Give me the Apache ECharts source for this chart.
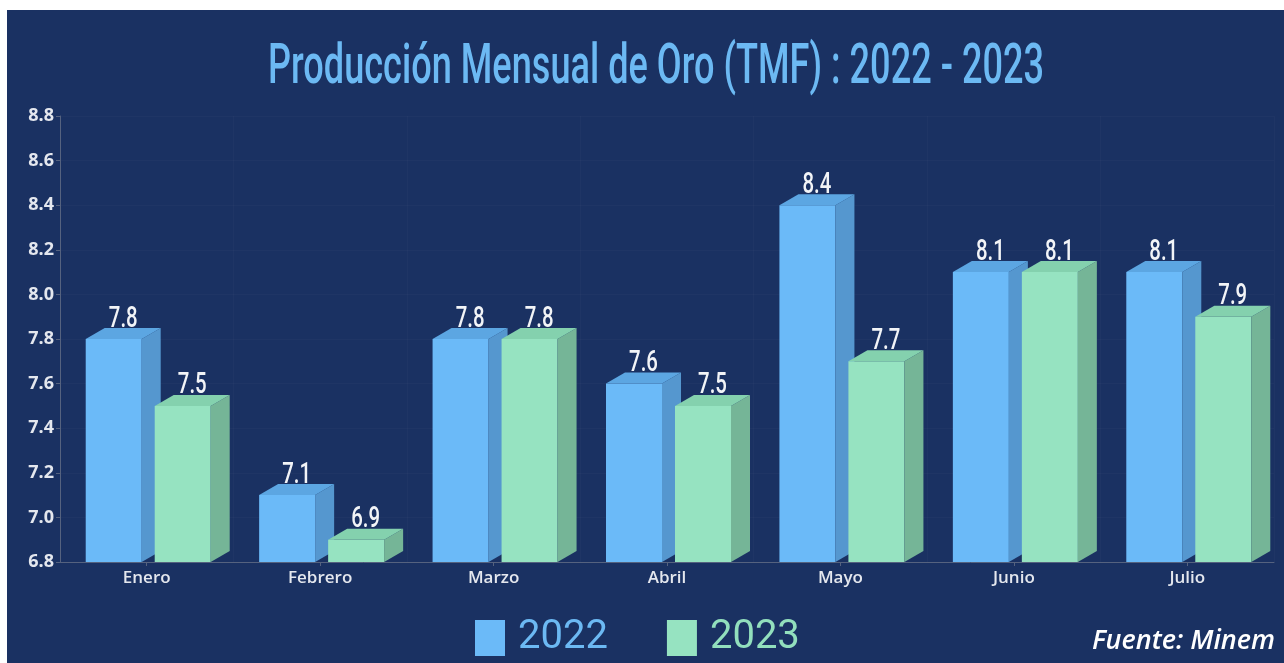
<!DOCTYPE html>
<html>
<head>
<meta charset="utf-8">
<script src="https://cdn.jsdelivr.net/npm/echarts@6/dist/echarts.min.js"></script>
<style>
  html, body { margin: 0; padding: 0; background: #ffffff; }
  #chart { position: absolute; left: 7px; top: 10px; width: 1277px; height: 653px; }
</style>
</head>
<body>
<div id="chart"></div>
<script>
// datos
const months = ["Enero", "Febrero", "Marzo", "Abril", "Mayo", "Junio", "Julio"];
const prod2022 = [7.8, 7.1, 7.8, 7.6, 8.4, 8.1, 8.1];
const prod2023 = [7.5, 6.9, 7.8, 7.5, 7.7, 8.1, 7.9];
const yMin = 6.8;
const yMax = 8.8;
const yStep = 0.2;

// medidas de la barra 3D
const BW = 56;
const DX = 19;
const DY = 11;

const colors = {
  a: { front: "#6bbaf8", side: "#5597cf", top: "#5ca6e2" },
  b: { front: "#96e3c1", side: "#75b597", top: "#84d1ae" },
};

function bar3d(offset, c) {
  return function (params, api) {
    const i = api.value(0);
    const v = api.value(1);
    const p = api.coord([i, v]);
    const b = api.coord([i, yMin]);
    const x0 = p[0] + offset;
    const x1 = x0 + BW;
    const yt = p[1];
    const yb = b[1];
    return {
      type: "group",
      children: [
        { type: "rect", shape: { x: x0, y: yt, width: BW, height: yb - yt }, style: { fill: c.front } },
        {
          type: "polygon",
          shape: { points: [[x1, yt], [x1 + DX, yt - DY], [x1 + DX, yb - DY], [x1, yb]] },
          style: { fill: c.side },
        },
        {
          type: "polygon",
          shape: { points: [[x0, yt], [x0 + DX, yt - DY], [x1 + DX, yt - DY], [x1, yt]] },
          style: { fill: c.top },
        },
        {
          type: "text",
          x: (x0 + x1 + DX) / 2,
          y: yt - DY + 6,
          scaleX: 0.68,
          style: {
            text: v.toFixed(1),
            fill: "#f2f4f7",
            font: "500 30px Roboto",
            align: "center",
            verticalAlign: "bottom",
          },
        },
      ],
    };
  };
}

const chart = echarts.init(document.getElementById("chart"));
const option = {
  backgroundColor: "#1a3162",
  animation: false,
  graphic: [
    {
      type: "text",
      x: 649,
      y: 59,
      scaleX: 0.645,
      style: {
        text: "Producción Mensual de Oro (TMF) : 2022 - 2023",
        fill: "#6cb9f3",
        font: "500 56px Roboto",
        align: "center",
        verticalAlign: "middle",
      },
    },
    {
      type: "text",
      right: 9,
      top: 618,
      style: {
        text: "Fuente: Minem",
        fill: "#ffffff",
        font: "italic 600 27px 'Open Sans'",
      },
    },
  ],
  legend: {
    left: 468,
    top: 608,
    padding: 0,
    itemWidth: 30,
    itemHeight: 36,
    itemGap: 59,
    icon: "rect",
    textStyle: { fontFamily: "Roboto", fontSize: 40, padding: [0, 0, 0, 8] },
    data: [
      { name: "2022", textStyle: { color: "#6cb9f3" } },
      { name: "2023", textStyle: { color: "#92dfbd" } },
    ],
  },
  grid: { left: 53, right: 10, top: 106, bottom: 101 },
  xAxis: {
    type: "category",
    data: months,
    axisLine: { lineStyle: { color: "#55627f" } },
    axisTick: { show: true, alignWithLabel: true, length: 4, lineStyle: { color: "#55627f" } },
    axisLabel: { color: "#e4e7ee", fontFamily: "Open Sans", fontSize: 17, fontWeight: 600, margin: 8 },
    splitLine: { show: true, lineStyle: { color: "rgba(255,255,255,0.025)" } },
  },
  yAxis: {
    type: "value",
    min: yMin,
    max: yMax,
    interval: yStep,
    axisLine: { show: true, lineStyle: { color: "#55627f" } },
    axisTick: { show: true, length: 4, lineStyle: { color: "#55627f" } },
    axisLabel: {
      color: "#e4e7ee",
      fontFamily: "Open Sans",
      fontSize: 18,
      fontWeight: 700,
      margin: 6,
      formatter: (v) => v.toFixed(1),
    },
    splitLine: { show: true, lineStyle: { color: "rgba(255,255,255,0.025)" } },
  },
  series: [
    {
      name: "2022",
      type: "custom",
      itemStyle: { color: colors.a.front },
      renderItem: bar3d(-61, colors.a),
      data: prod2022.map((v, i) => [i, v]),
      z: 2,
    },
    {
      name: "2023",
      type: "custom",
      itemStyle: { color: colors.b.front },
      renderItem: bar3d(8, colors.b),
      data: prod2023.map((v, i) => [i, v]),
      z: 3,
    },
  ],
};
chart.setOption(option);
</script>
</body>
</html>
